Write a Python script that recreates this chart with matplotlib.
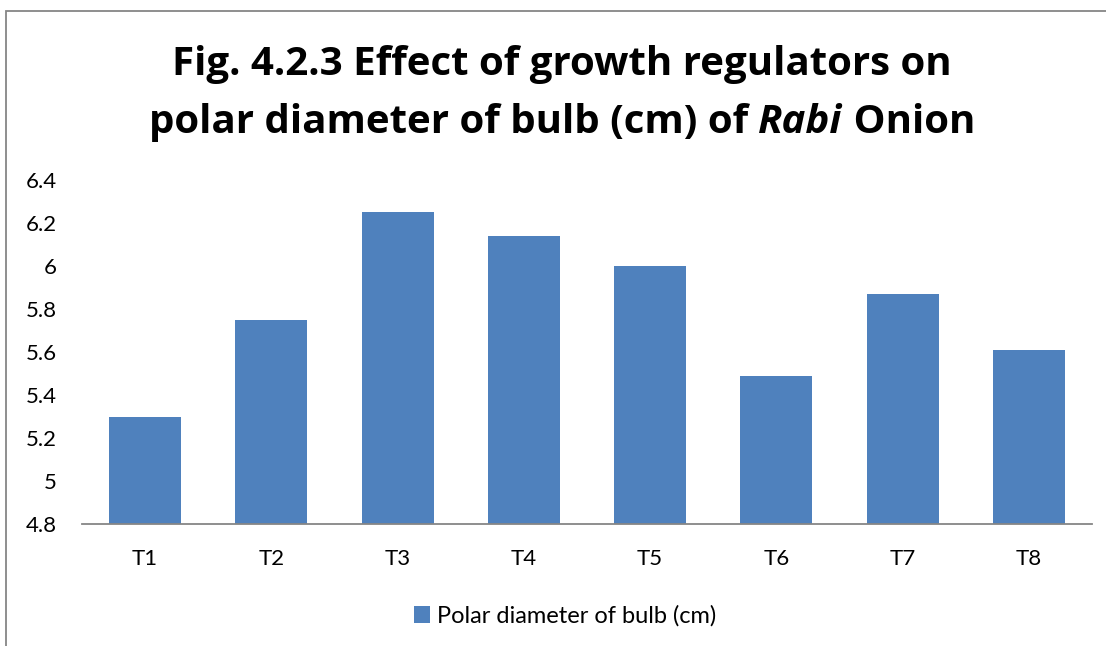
import matplotlib
matplotlib.use("Agg")
import matplotlib.pyplot as plt
from matplotlib.patches import Rectangle

treatments = ["T1", "T2", "T3", "T4", "T5", "T6", "T7", "T8"]
polar_diameter = [5.30, 5.75, 6.25, 6.14, 6.00, 5.49, 5.87, 5.61]
y_ticks = [4.8, 5.0, 5.2, 5.4, 5.6, 5.8, 6.0, 6.2, 6.4]
y_tick_labels = ["4.8", "5", "5.2", "5.4", "5.6", "5.8", "6", "6.2", "6.4"]
series_name = "Polar diameter of bulb (cm)"

FONT = "Lato"
TFONT = "Open Sans"
BAR = "#4F81BD"
W, H = 1106, 646

fig = plt.figure(figsize=(W / 100, H / 100), dpi=100)
# chart frame (top + left edges visible, rest cut off)
fig.patches.append(Rectangle((6 / W, -0.1), 1.2, 1 - 11 / H + 0.1, transform=fig.transFigure,
                             fill=False, ec="#868686", lw=1.3))

ax = fig.add_axes([82 / W, 1 - 524 / H, (1092 - 82) / W, (524 - 180) / H])
x = range(len(treatments))
ax.bar(x, polar_diameter, width=0.57, color=BAR, label=series_name)
ax.set_xlim(-0.5, len(treatments) - 0.5)
ax.set_ylim(4.8, 6.4)
ax.set_yticks(y_ticks)
ax.set_yticklabels(y_tick_labels, family=FONT, fontsize=16)
ax.set_xticks(list(x))
ax.set_xticklabels(treatments, family=FONT, fontsize=16)
ax.tick_params(axis="both", length=0, colors="black")
ax.tick_params(axis="y", pad=18)
ax.tick_params(axis="x", pad=18)
for s in ("top", "right", "left"):
    ax.spines[s].set_visible(False)
ax.spines["bottom"].set_color("#868686")
ax.spines["bottom"].set_linewidth(1.3)

# title, line 2 has italic "Rabi"
cx = 562 / W
fig.text(cx, 1 - 75 / H, "Fig. 4.2.3 Effect of growth regulators on", ha="center", va="baseline",
         family=TFONT, fontsize=29, fontweight="bold")
parts = [("polar diameter of bulb (cm) of ", "normal"), ("Rabi", "italic"), (" Onion", "normal")]
r = fig.canvas.get_renderer()
texts = [fig.text(0, 1 - 133 / H, s, ha="left", va="baseline", family=TFONT, fontsize=29,
                  fontweight="bold", style=st) for s, st in parts]
widths = [t.get_window_extent(r).width / W for t in texts]
x0 = cx - sum(widths) / 2
for t, w in zip(texts, widths):
    t.set_x(x0)
    x0 += w

leg = fig.legend(loc="center", bbox_to_anchor=(565 / W, 1 - 616 / H), frameon=False,
                 prop={"family": FONT, "size": 17}, handlelength=0.7, handleheight=0.7,
                 handletextpad=0.3)

fig.savefig("out.png", dpi=100)
